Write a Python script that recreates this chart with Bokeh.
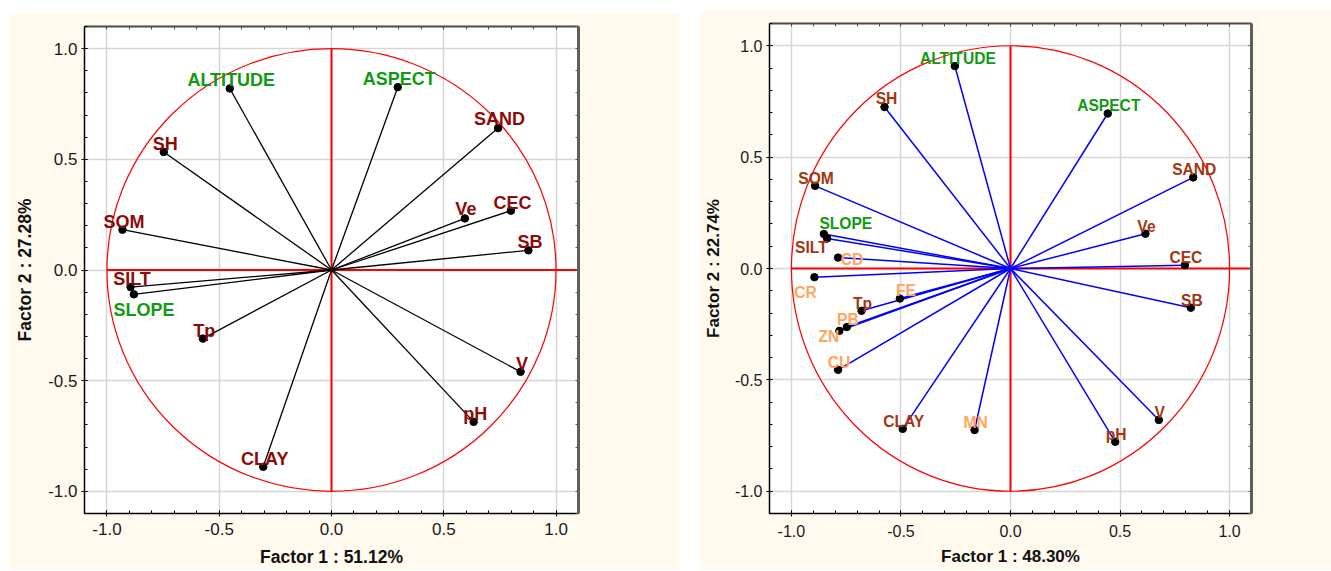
import numpy as np
from bokeh.plotting import figure
from bokeh.models import ColumnDataSource, Range1d, FixedTicker, LinearAxis, PrintfTickFormatter
from bokeh.layouts import row
from bokeh.core.properties import value
from bokeh.embed import file_html
from bokeh.resources import INLINE

# ---------------- data : left panel ----------------
left_vars = ["ALTITUDE", "ASPECT", "SAND", "SH", "Ve", "CEC", "SB", "SOM",
             "SILT", "SLOPE", "Tp", "V", "pH", "CLAY"]
left_f1 = [-0.453, 0.295, 0.742, -0.747, 0.594, 0.799, 0.877, -0.931,
           -0.895, -0.880, -0.573, 0.842, 0.633, -0.304]
left_f2 = [0.820, 0.826, 0.641, 0.533, 0.233, 0.268, 0.089, 0.182,
           -0.077, -0.110, -0.310, -0.460, -0.686, -0.889]
left_group = ["env", "env", "soil", "soil", "soil", "soil", "soil", "soil",
              "soil", "env", "soil", "soil", "soil", "soil"]
left_xlabel = "Factor 1 : 51.12%"
left_ylabel = "Factor 2 : 27.28%"

# ---------------- data : right panel ----------------
right_vars = ["ALTITUDE", "SH", "ASPECT", "SOM", "SAND", "SLOPE", "SILT", "Ve",
              "CD", "CEC", "CR", "FE", "Tp", "SB", "PB", "ZN", "CU", "V",
              "CLAY", "MN", "pH"]
right_f1 = [-0.254, -0.575, 0.444, -0.892, 0.834, -0.852, -0.837, 0.616,
            -0.787, 0.796, -0.895, -0.505, -0.680, 0.823, -0.747, -0.781,
            -0.787, 0.677, -0.492, -0.164, 0.478]
right_f2 = [0.909, 0.725, 0.696, 0.371, 0.409, 0.155, 0.135, 0.156,
            0.049, 0.015, -0.039, -0.135, -0.190, -0.176, -0.263, -0.280,
            -0.455, -0.680, -0.720, -0.725, -0.778]
right_group = ["env", "soil", "env", "soil", "soil", "env", "soil", "soil",
               "metal", "soil", "metal", "metal", "soil", "soil", "metal", "metal",
               "metal", "soil", "soil", "metal", "soil"]
right_xlabel = "Factor 1 : 48.30%"
right_ylabel = "Factor 2 : 22.74%"

major_ticks = [-1.0, -0.5, 0.0, 0.5, 1.0]

# ---------------- styling (label placement in screen px) ----------------
left_palette = {"soil": "#8B0A0A", "env": "#109A10"}
right_palette = {"soil": "#A3360F", "env": "#109A10", "metal": "#FFA55C"}
left_offsets = {"SLOPE": (10, 16), "SAND": (1.5, -9), "Ve": (1, -9)}
left_default_offset = (1.5, -8)
right_offsets = {"SLOPE": (22, -10), "SILT": (-15.7, 9), "CD": (14, 2.3),
                 "CR": (-9, 15.6), "FE": (6, -7.6), "ZN": (-10.5, 5.6),
                 "SH": (2, -8.4), "ALTITUDE": (3, -7.5)}
right_default_offset = (1, -7.5)

CREAM = "#FFF9EE"
FONT = "Liberation Sans"


def make_panel(names, f1, f2, groups, palette, offsets, default_off,
               xlabel, ylabel, vec_color, vec_width, label_size, tick_size,
               title_size, width, height, borders, margin, ylab_standoff,
               xtick_standoff, xlab_standoff):
    xo = [offsets.get(n, default_off)[0] for n in names]
    yo = [offsets.get(n, default_off)[1] for n in names]
    src = ColumnDataSource(dict(f1=f1, f2=f2, name=names,
                                color=[palette[g] for g in groups],
                                xo=xo, yo=yo))
    bl, br, bt, bb = borders
    p = figure(width=width, height=height,
               x_range=Range1d(-1.1, 1.1), y_range=Range1d(-1.1, 1.1),
               output_backend="svg", toolbar_location=None,
               min_border_left=bl, min_border_right=br,
               min_border_top=bt, min_border_bottom=bb,
               background_fill_color="white", border_fill_color=CREAM)
    p.margin = margin
    p.outline_line_color = None

    minor = list(np.round(np.arange(-1.1, 1.1001, 0.1), 2))
    ticker = FixedTicker(ticks=major_ticks, minor_ticks=minor)
    fmt = PrintfTickFormatter(format="%.1f")

    for ax in (p.xaxis[0], p.yaxis[0]):
        ax.ticker = ticker
        ax.formatter = fmt
        ax.axis_line_color = "black"
        ax.axis_line_width = 1.5
        ax.major_tick_line_color = "black"
        ax.minor_tick_line_color = "black"
        ax.major_tick_in = 3
        ax.major_tick_out = 3
        ax.minor_tick_in = 3
        ax.minor_tick_out = 0
        ax.major_label_text_font = FONT
        ax.major_label_text_font_size = f"{tick_size}px"
        ax.major_label_text_color = "#1a1a1a"
        ax.axis_label_text_font = FONT
        ax.axis_label_text_font_style = "bold"
        ax.axis_label_text_font_size = f"{title_size}px"
        ax.axis_label_text_color = "#111111"
    p.xaxis[0].axis_label = xlabel
    p.yaxis[0].axis_label = ylabel
    p.xaxis[0].major_label_standoff = xtick_standoff
    p.xaxis[0].axis_label_standoff = xlab_standoff
    p.yaxis[0].major_label_standoff = 4
    p.yaxis[0].axis_label_standoff = ylab_standoff

    # top / right frame sides: ticks only (drawn as minor ticks, no labels)
    tick_only = FixedTicker(ticks=[], minor_ticks=minor)
    for side, lw, lc in (("above", 2, "#4a4a4a"), ("right", 3, "#5e5e5e")):
        ax = LinearAxis(ticker=tick_only, formatter=fmt,
                        major_label_standoff=0,
                        axis_line_color=lc, axis_line_width=lw,
                        major_tick_line_color=lc, minor_tick_line_color=lc,
                        major_tick_in=0, major_tick_out=0,
                        minor_tick_in=3, minor_tick_out=0)
        p.add_layout(ax, side)

    for g in (p.xgrid[0], p.ygrid[0]):
        g.ticker = FixedTicker(ticks=major_ticks)
        g.grid_line_color = "#d6d6d6"
        g.grid_line_width = 1.5

    # unit circle and red reference axes
    p.ellipse(x=0, y=0, width=2, height=2, fill_color=None,
              line_color="red", line_width=1.2)
    p.segment(x0=[-1.0, 0.0], y0=[0.0, -1.0], x1=[1.1, 0.0], y1=[0.0, 1.0],
              line_color="red", line_width=2)

    # loading vectors
    p.segment(x0=0, y0=0, x1="f1", y1="f2", source=src,
              line_color=vec_color, line_width=vec_width)
    p.scatter("f1", "f2", source=src, size=7.5, color="black")
    p.text("f1", "f2", text="name", source=src, text_color="color",
           x_offset="xo", y_offset="yo", text_align="center",
           text_baseline="alphabetic", text_font=value(FONT),
           text_font_style="bold", text_font_size=f"{label_size}px")
    return p


p1 = make_panel(left_vars, left_f1, left_f2, left_group, left_palette,
                left_offsets, left_default_offset, left_xlabel, left_ylabel,
                "black", 1.3, 18, 17, 17.5,
                width=672, height=558, borders=(76, 102, 13, 57),
                margin=(12, 0, 0, 8), ylab_standoff=10, xtick_standoff=6,
                xlab_standoff=9)
p2 = make_panel(right_vars, right_f1, right_f2, right_group, right_palette,
                right_offsets, right_default_offset, right_xlabel, right_ylabel,
                "#0000FF", 1.5, 15.6, 16, 17,
                width=632, height=561, borders=(70, 80, 14, 55),
                margin=(9, 0, 0, 19), ylab_standoff=9, xtick_standoff=8,
                xlab_standoff=7)

layout = row(p1, p2)
open("out.html", "w").write(file_html(layout, INLINE))
